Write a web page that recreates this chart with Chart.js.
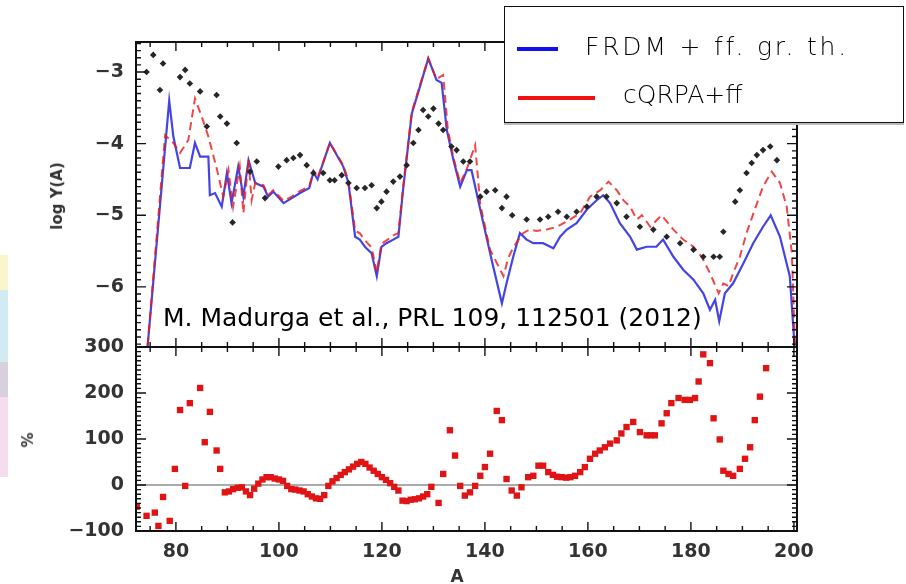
<!DOCTYPE html>
<html lang="en">

<head>
    <meta charset="UTF-8">
    <script src="https://cdn.jsdelivr.net/npm/chart.js"></script>
    <title>log Y(A)</title>
    <style>
        body { margin: 0; background: #fff; }
        #wrap { position: relative; width: 906px; height: 584px; overflow: hidden; }
        canvas { position: absolute; left: 0; top: 0; }
        .lbl { position: absolute; font-family: 'DejaVu Sans', sans-serif; font-weight: bold; color: #333; white-space: nowrap; }
        .hand { position: absolute; font-family: 'DejaVu Sans', sans-serif; color: #000; white-space: nowrap; }
        .strip { position: absolute; left: 0; width: 8px; }
    </style>
</head>

<body>
    <div id="wrap">
        <div class="strip" style="top:255px;height:35px;background:#fbf5cc"></div>
        <div class="strip" style="top:290px;height:72px;background:#d2eaf1"></div>
        <div class="strip" style="top:362px;height:35px;background:#d8d0dc"></div>
        <div class="strip" style="top:397px;height:80px;background:#f3ddee"></div>

        <canvas id="topChart" width="906" height="584"></canvas>
        <canvas id="botChart" width="906" height="584"></canvas>

        <div class="lbl" style="left:57px;top:196px;font-size:15px;transform:translate(-50%,-50%) rotate(-90deg)">log Y(A)</div>
        <div class="lbl" style="left:28px;top:440px;font-size:15px;transform:translate(-50%,-50%) rotate(-90deg)">%</div>
        <div class="lbl" style="left:457px;top:576px;font-size:17px;transform:translate(-50%,-50%)">A</div>

        <div class="hand" style="left:163px;top:303px;font-size:25px">M. Madurga et al., PRL 109, 112501 (2012)</div>

        <div style="position:absolute;left:504px;top:6px;width:398px;height:115px;border:1.5px solid #111;background:#fff;box-shadow:0 2px 0 #bbb">
            <div style="position:absolute;left:12px;top:40px;width:41px;height:4px;background:#1010f0"></div>
            <div class="hand" style="left:80px;top:25px;font-size:25px;font-weight:300;letter-spacing:2.8px">FRDM + ff. gr. th.</div>
            <div style="position:absolute;left:13px;top:89px;width:77px;height:4px;background:#f01010"></div>
            <div class="hand" style="left:118px;top:73px;font-size:25px;font-weight:300">cQRPA+ff</div>
        </div>
    </div>

    <script>
        // x range and tick labels
        const xMin = 72.25, xMax = 200.6;
        const xTicks = [80, 100, 120, 140, 160, 180, 200];
        const topTicks = [-6, -5, -4, -3];
        const botTicks = [-100, 0, 100, 200, 300];

        // FRDM + ff. gr. th. (blue)
        const frdmA = [74.3, 78.7, 79.5, 80.8, 82.7, 83.7, 84.7, 86.3, 86.6, 87.6, 88.9, 89.9, 90.8, 92.1, 93.1, 94.1, 95.4,
            97.0, 97.9, 98.9, 100.9, 102.5, 104.1, 105.9, 106.7, 107.5, 109.9, 112.5, 113.5, 114.8, 115.7, 116.7, 118.0,
            119.0, 119.9, 120.9, 122.2, 123.2, 124.1, 125.8, 127.4, 129.0, 130.6, 131.6, 132.6, 133.9, 135.2, 136.5, 137.4,
            139.1, 141.3, 143.3, 144.2, 145.5, 146.8, 148.1, 149.4, 151.3, 153.3, 154.6, 155.9, 157.8, 159.8, 161.7, 163.0,
            164.3, 166.2, 168.2, 169.5, 171.4, 173.3, 174.6, 176.6, 178.5, 180.5, 182.4, 183.7, 184.7, 185.5, 186.6, 188.2,
            190.2, 192.1, 194.0, 195.5, 197.3, 199.2, 200.3];
        const frdmLogY = [-7.0, -3.40, -3.90, -4.34, -4.34, -3.99, -4.18, -4.18, -4.72, -4.69, -4.88, -4.41, -4.83, -4.32, -4.74, -4.23, -4.55,
            -4.60, -4.74, -4.67, -4.83, -4.76, -4.69, -4.62, -4.40, -4.50, -3.99, -4.32, -4.55, -5.30, -5.34, -5.44, -5.53,
            -5.85, -5.44, -5.39, -5.34, -5.30, -4.65, -3.58, -3.20, -2.81, -3.11, -3.15, -3.81, -4.23, -4.60, -4.37, -4.37,
            -4.92, -5.62, -6.23, -5.95, -5.58, -5.25, -5.34, -5.39, -5.39, -5.46, -5.30, -5.20, -5.11, -4.92, -4.79, -4.72,
            -4.83, -5.11, -5.30, -5.48, -5.44, -5.44, -5.34, -5.58, -5.76, -5.90, -6.09, -6.32, -6.18, -6.48, -6.09, -5.95,
            -5.67, -5.39, -5.16, -5.00, -5.30, -5.85, -7.0];

        // cQRPA+ff (red dashed)
        const qrpaA = [74.3, 77.9, 79.5, 80.8, 82.4, 83.7, 85.0, 86.3, 87.9, 89.2, 90.2, 91.1, 92.4, 93.1, 94.1, 94.7, 95.4,
            97.0, 97.9, 98.9, 100.9, 102.5, 104.1, 105.9, 106.7, 107.5, 109.9, 112.5, 113.5, 114.8, 115.7, 116.7, 118.0,
            119.0, 119.9, 120.9, 122.2, 123.2, 124.1, 125.8, 127.4, 129.0, 130.6, 131.9, 132.8, 133.9, 135.2, 136.5, 138.1,
            139.1, 141.0, 143.6, 144.5, 145.5, 147.4, 148.7, 150.0, 152.0, 154.0, 156.5, 158.5, 160.4, 162.4, 164.0, 165.6,
            167.0, 168.2, 169.5, 170.5, 172.1, 174.3, 176.6, 178.5, 180.5, 182.1, 183.7, 185.4, 186.3, 187.3, 188.2, 189.5,
            190.8, 192.4, 194.0, 195.7, 197.3, 198.6, 199.6, 200.3];
        const qrpaLogY = [-7.0, -3.88, -3.99, -4.13, -3.95, -3.37, -3.62, -3.90, -4.34, -4.74, -4.37, -4.88, -4.32, -4.97, -4.23, -4.79, -4.55,
            -4.58, -4.72, -4.65, -4.80, -4.74, -4.66, -4.60, -4.38, -4.48, -3.99, -4.30, -4.52, -5.22, -5.25, -5.35, -5.45,
            -5.80, -5.40, -5.35, -5.28, -5.25, -4.62, -3.56, -3.18, -2.81, -3.10, -3.04, -3.80, -4.20, -4.55, -4.35, -4.02,
            -4.85, -5.48, -5.85, -5.60, -5.45, -5.25, -5.20, -5.22, -5.20, -5.16, -5.06, -4.97, -4.74, -4.65, -4.53, -4.65,
            -4.80, -4.88, -5.06, -5.00, -5.16, -5.00, -5.20, -5.34, -5.44, -5.58, -5.81, -6.09, -5.95, -5.99, -5.81, -5.58,
            -5.25, -4.92, -4.60, -4.39, -4.55, -4.88, -5.53, -7.0];

        // solar r-process abundances (black dots)
        const obsA = [74.3, 75.6, 76.9, 77.5, 80.8, 81.8, 82.7, 84.7, 86.0, 87.9, 88.6, 89.9, 91.0, 91.8, 94.4, 95.7, 97.3,
            99.9, 101.5, 102.8, 104.1, 105.4, 106.7, 108.6, 109.9, 110.8, 112.2, 113.5, 115.1, 116.7, 118.0, 119.0, 119.9,
            120.9, 122.2, 123.5, 124.8, 126.1, 127.1, 128.0, 129.0, 130.0, 131.0, 131.9, 133.5, 134.5, 135.8, 137.1, 139.1,
            140.3, 142.0, 143.3, 144.2, 145.3, 148.1, 150.7, 152.3, 154.2, 155.9, 157.8, 159.8, 161.7, 163.6, 165.6, 167.5,
            170.1, 172.7, 175.3, 177.9, 180.5, 182.4, 184.4, 185.6, 186.3, 188.6, 189.5, 190.8, 191.8, 192.8, 194.0, 195.4,
            196.7];
        const obsLogY = [-3.00, -2.76, -3.25, -2.88, -3.07, -2.97, -3.16, -3.27, -3.76, -3.32, -3.62, -3.72, -5.10, -3.99, -4.39, -4.25, -4.76,
            -4.32, -4.23, -4.20, -4.16, -4.30, -4.41, -4.41, -4.51, -4.51, -4.44, -4.55, -4.62, -4.62, -4.58, -4.90, -4.81,
            -4.67, -4.53, -4.46, -4.30, -3.99, -3.81, -3.53, -3.62, -3.51, -3.72, -3.81, -4.04, -4.09, -4.25, -4.25, -4.74,
            -4.67, -4.65, -4.90, -4.74, -5.00, -5.06, -5.06, -5.02, -4.95, -5.02, -4.95, -4.88, -4.74, -4.74, -4.83, -5.02,
            -5.16, -5.20, -5.30, -5.39, -5.48, -5.58, -5.58, -5.58, -5.23, -4.81, -4.65, -4.41, -4.27, -4.16, -4.09, -4.04,
            -4.23];

        // difference in % (red squares)
        const diffA = [72.4, 74.3, 75.9, 76.6, 77.5, 78.8, 79.8, 80.8, 81.8, 82.7, 84.7, 85.6, 86.6, 87.9, 88.6, 89.5,
            90.3, 91.1, 92.0, 92.8, 93.6, 94.4, 95.2, 96.0, 96.8, 97.6, 98.4, 99.2, 100.0, 100.8, 101.6, 102.4, 103.2, 104.0,
            104.8, 105.6, 106.4, 107.2, 108.0, 108.8, 109.6, 110.4, 111.2, 112.0, 112.8, 113.6, 114.4, 115.2, 116.0, 116.8,
            117.6, 118.4, 119.2, 120.0, 120.8, 121.6, 122.4, 123.2, 124.0, 124.8, 125.6, 126.4, 127.2, 128.0, 128.8, 129.6,
            131.0, 131.9, 133.2, 134.2, 135.2, 136.1, 137.1, 138.1, 139.1, 140.0, 141.0, 142.3, 143.3, 144.2, 145.2, 146.2,
            147.1, 148.4, 149.4, 150.4, 151.3, 152.3, 153.2, 154.0, 154.9, 155.8, 156.6, 157.5, 158.5, 159.4, 160.4, 161.4,
            162.3, 163.3, 164.3, 165.6, 166.5, 167.5, 168.8, 170.1, 171.4, 172.2, 173.0, 174.3, 175.3, 176.2, 177.6, 178.8,
            179.8, 180.8, 181.5, 182.4, 183.7, 184.4, 185.6, 186.3, 187.3, 188.2, 189.5, 190.5, 191.5, 192.4, 193.4, 194.6];
        const diffPct = [-47, -67, -60, -89, -26, -78, 35, 163, -2, 178, 211, 93, 159, 75, 35, -16,
            -14, -9, -6, -5, -14, -22, -8, 3, 12, 17, 17, 14, 12, 9, -2, -9, -10, -12,
            -14, -20, -25, -29, -30, -22, -2, 8, 15, 22, 28, 34, 40, 46, 50, 46,
            38, 31, 24, 17, 11, 4, -4, -12, -34, -35, -32, -31, -29, -25, -20, -4,
            -39, 24, 119, 64, -2, -23, -16, -2, 20, 39, 68, 161, 141, 13, -12, -23,
            -5, 17, 20, 42, 42, 28, 22, 18, 17, 16, 17, 20, 28, 39, 57, 68,
            75, 82, 90, 97, 112, 126, 137, 115, 108, 108, 108, 134, 156, 178, 189, 185,
            185, 189, 225, 284, 265, 145, 99, 31, 24, 20, 35, 57, 82, 141, 192, 254];

        function pairs(xs, ys) {
            return xs.map((x, i) => ({ x: x, y: ys[i] }));
        }
        function minusFmt(v) {
            return v < 0 ? '\u2212' + Math.abs(v) : String(v);
        }

        Chart.defaults.font.family = "'DejaVu Sans', sans-serif";
        Chart.defaults.font.size = 19;
        Chart.defaults.font.weight = 'bold';
        Chart.defaults.color = '#333';

        // box around the plot and inward IDL style tick marks
        const frameTicks = {
            id: 'frameTicks',
            afterDraw(chart, args, o) {
                const ctx = chart.ctx, a = chart.chartArea;
                const xs = chart.scales.x, ys = chart.scales.y;
                ctx.save();
                ctx.strokeStyle = '#111';
                ctx.lineWidth = 1.4;
                ctx.beginPath();
                for (let v = 75; v <= 200; v += 5) {
                    const px = xs.getPixelForValue(v);
                    const len = v % 20 === 0 ? 9 : 5;
                    ctx.moveTo(px, a.bottom); ctx.lineTo(px, a.bottom - len);
                    ctx.moveTo(px, a.top); ctx.lineTo(px, a.top + len);
                }
                for (let k = o.from; k <= o.to; k++) {
                    const py = ys.getPixelForValue(k * o.step);
                    const len = k % o.major === 0 ? 10 : 5;
                    ctx.moveTo(a.left, py); ctx.lineTo(a.left + len, py);
                    ctx.moveTo(a.right, py); ctx.lineTo(a.right - len, py);
                }
                ctx.stroke();
                ctx.lineWidth = 2;
                ctx.strokeRect(a.left, a.top, a.right - a.left, a.bottom - a.top);
                ctx.restore();
            }
        };

        const hiddenX = {
            type: 'linear', min: xMin, max: xMax,
            ticks: { display: false }, grid: { display: false, drawTicks: false }, border: { display: false },
            afterFit: s => { s.height = 0; }
        };

        new Chart(document.getElementById('topChart'), {
            type: 'scatter',
            data: {
                datasets: [
                    {
                        label: 'solar', data: pairs(obsA, obsLogY), pointStyle: 'rectRot', pointRadius: 3.3,
                        backgroundColor: '#262626', borderWidth: 0
                    },
                    {
                        label: 'cQRPA+ff', data: pairs(qrpaA, qrpaLogY), showLine: true, pointRadius: 0,
                        borderColor: 'rgba(235,25,25,0.8)', borderWidth: 2, borderDash: [8, 5]
                    },
                    {
                        label: 'FRDM + ff. gr. th.', data: pairs(frdmA, frdmLogY), showLine: true, pointRadius: 0,
                        borderColor: 'rgba(35,35,225,0.85)', borderWidth: 2.2
                    }
                ]
            },
            options: {
                responsive: false, animation: false,
                layout: { padding: { left: 0, top: 42, right: 109, bottom: 237 } },
                plugins: {
                    legend: { display: false }, tooltip: { enabled: false },
                    frameTicks: { from: -68, to: -26, step: 0.1, major: 10 }
                },
                scales: {
                    x: hiddenX,
                    y: {
                        min: -6.84, max: -2.58,
                        afterBuildTicks: s => { s.ticks = topTicks.map(v => ({ value: v })); },
                        ticks: { padding: 12, callback: minusFmt },
                        grid: { display: false, drawTicks: false }, border: { display: false },
                        afterFit: s => { s.width = 136; }
                    }
                }
            },
            plugins: [frameTicks]
        });

        new Chart(document.getElementById('botChart'), {
            type: 'scatter',
            data: {
                datasets: [{
                    label: '%', data: pairs(diffA, diffPct), pointStyle: 'rect', pointRadius: 4.5,
                    backgroundColor: '#e01414', borderWidth: 0
                }]
            },
            options: {
                responsive: false, animation: false,
                layout: { padding: { left: 0, top: 347, right: 109, bottom: 0 } },
                plugins: {
                    legend: { display: false }, tooltip: { enabled: false },
                    frameTicks: { from: -10, to: 30, step: 10, major: 10 }
                },
                scales: {
                    x: {
                        type: 'linear', min: xMin, max: xMax,
                        afterBuildTicks: s => { s.ticks = xTicks.map(v => ({ value: v })); },
                        ticks: { padding: 10, maxRotation: 0 },
                        grid: { display: false, drawTicks: false }, border: { display: false },
                        afterFit: s => { s.height = 53; }
                    },
                    y: {
                        min: -100, max: 300,
                        afterBuildTicks: s => { s.ticks = botTicks.map(v => ({ value: v })); },
                        ticks: { padding: 12, callback: minusFmt },
                        grid: {
                            drawTicks: false, lineWidth: 2,
                            color: c => (c.tick && c.tick.value === 0) ? '#aaaaaa' : 'rgba(0,0,0,0)'
                        },
                        border: { display: false },
                        afterFit: s => { s.width = 136; }
                    }
                }
            },
            plugins: [frameTicks]
        });
    </script>
</body>

</html>
